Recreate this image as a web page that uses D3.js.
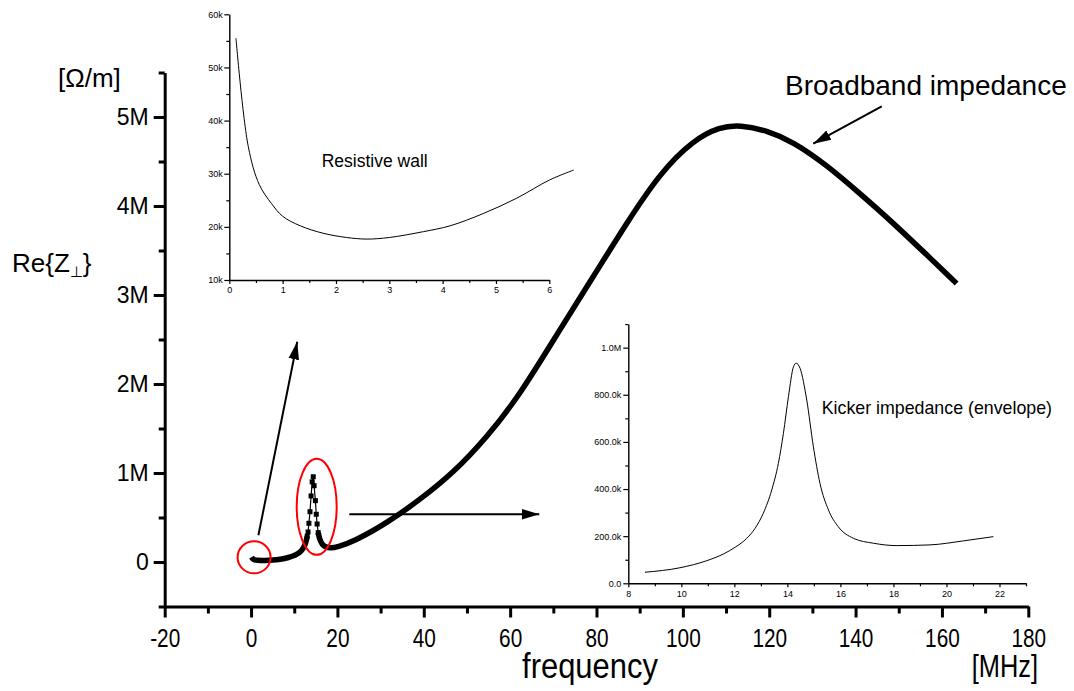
<!DOCTYPE html>
<html>
<head>
<meta charset="utf-8">
<script src="https://cdn.jsdelivr.net/npm/d3@7"></script>
<style>
  body { margin: 0; background: #fff; }
  svg { display: block; }
  text { font-family: "Liberation Sans", Arial, Helvetica, sans-serif; fill: #000; }
</style>
</head>
<body>
<div id="chart"></div>
<script>
// Main curve: Re{Z_perp} [Ohm/m] vs frequency [MHz]
const mainFreq = [0.125, 0.35, 0.8, 1.5, 2.5, 4, 6, 7.5, 8.6, 9.9, 10.9, 11.6, 12.0, 12.5, 12.8, 13.0,
  13.2, 13.4, 13.65, 13.9, 14.15, 14.4, 14.6, 14.9, 15.1, 15.3,
  15.55, 15.9, 16.5, 17.2, 18.3, 20, 23.7, 31.4, 39.1, 46.8, 54.6, 62.3,
  71.5, 79.3, 87, 94.7, 102.4, 108.6, 113.3, 119.4,
  125.6, 133.3, 141, 148.7, 156.5, 163.4];
const mainZ = [55e3, 35e3, 24e3, 19e3, 17e3, 19e3, 25e3, 35e3, 50e3, 68e3, 95e3, 123e3, 150e3, 190e3, 240e3, 290e3,
  337e3, 435e3, 565e3, 742e3, 900e3, 958e3, 857e3, 689e3, 536e3, 427e3,
  330e3, 250e3, 195e3, 170e3, 154e3, 168e3, 228e3, 435e3, 700e3, 1.0e6, 1.4e6, 1.88e6,
  2.61e6, 3.21e6, 3.81e6, 4.37e6, 4.74e6, 4.89e6, 4.91e6, 4.85e6,
  4.72e6, 4.46e6, 4.14e6, 3.81e6, 3.45e6, 3.13e6];

// Resistive wall inset
const rwFreq = [0.125, 0.356, 0.56, 0.79, 1.0, 1.33, 1.76, 2.2, 2.58, 3.0, 3.64, 4.14, 4.76, 5.39, 6.0, 6.46];
const rwZ = [55.5e3, 35.1e3, 28.0e3, 24.4e3, 22.0e3, 20.2e3, 18.8e3, 18.0e3, 17.7e3, 18.0e3, 19.1e3, 20.2e3, 22.5e3, 25.4e3, 28.8e3, 30.7e3];

// Kicker impedance (envelope) inset
const kFreq = [8.63, 9.95, 10.96, 11.58, 12.03, 12.47, 12.78, 13.09, 13.41, 13.66, 13.85, 14.04, 14.23, 14.33, 14.48,
  14.73, 14.98, 15.23, 15.55, 15.92, 16.49, 17.25, 18.13, 19.38, 20.64, 21.77];
const kZ = [47e3, 66e3, 96e3, 124e3, 153e3, 191e3, 233e3, 297e3, 396e3, 509e3, 636e3, 792e3, 919e3, 934e3, 912e3,
  778e3, 580e3, 424e3, 311e3, 240e3, 191e3, 170e3, 160e3, 163e3, 180e3, 198e3];

// Tick values and labels
const mainXTicks = [-20, 0, 20, 40, 60, 80, 100, 120, 140, 160, 180];
const mainXMinor = [-10, 10, 30, 50, 70, 90, 110, 130, 150, 170];
const mainYTicks = [0, 1e6, 2e6, 3e6, 4e6, 5e6];
const mainYLabels = ["0", "1M", "2M", "3M", "4M", "5M"];
const mainYMinor = [-0.5e6, 0.5e6, 1.5e6, 2.5e6, 3.5e6, 4.5e6, 5.5e6];
const rwXTicks = [0, 1, 2, 3, 4, 5, 6];
const rwXMinor = [0.5, 1.5, 2.5, 3.5, 4.5, 5.5];
const rwYTicks = [10e3, 20e3, 30e3, 40e3, 50e3, 60e3];
const rwYLabels = ["10k", "20k", "30k", "40k", "50k", "60k"];
const rwYMinor = [15e3, 25e3, 35e3, 45e3, 55e3];
const kXTicks = [8, 10, 12, 14, 16, 18, 20, 22];
const kXMinor = [9, 11, 13, 15, 17, 19, 21, 23];
const kYTicks = [0, 200e3, 400e3, 600e3, 800e3, 1e6];
const kYLabels = ["0.0", "200.0k", "400.0k", "600.0k", "800.0k", "1.0M"];
const kYMinor = [100e3, 300e3, 500e3, 700e3, 900e3, 1.1e6];

const width = 1074;
const height = 691;

const svg = d3.create("svg")
    .attr("width", width)
    .attr("height", height)
    .attr("viewBox", [0, 0, width, height]);

svg.append("rect").attr("width", width).attr("height", height).attr("fill", "#fff");

// Main scales
const x = d3.scaleLinear().domain([-20, 180]).range([164.7, 1028.3]);
const y = d3.scaleLinear().domain([-0.5e6, 5.5e6]).range([606.5, 72.5]);

// helper: draw major + minor ticks for an axis
function drawAxis(g, axisFn, scale, major, labels, minor, opt) {
    const a = g.append("g").call(axisFn(scale).tickValues(major)
        .tickFormat((d, i) => labels ? labels[i] : d)
        .tickSize(opt.major).tickSizeOuter(0).tickPadding(opt.pad));
    a.select(".domain").attr("stroke-width", opt.lw);
    a.selectAll(".tick line").attr("stroke-width", opt.tw);
    a.selectAll(".tick text").attr("font-size", opt.fs).attr("fill", "#000")
        .attr("font-family", null);
    if (opt.squeeze) a.selectAll(".tick text").attr("transform", `scale(${opt.squeeze},1)`);
    const m = g.append("g").call(axisFn(scale).tickValues(minor).tickFormat("")
        .tickSize(opt.minor).tickSizeOuter(0));
    m.select(".domain").remove();
    m.selectAll(".tick line").attr("stroke-width", opt.tw);
    return a;
}

// Main x axis
const gx = svg.append("g").attr("transform", `translate(0,${y(-0.5e6)})`);
drawAxis(gx, d3.axisBottom, x, mainXTicks, null, mainXMinor,
    {major: 11, minor: 7, pad: 11, lw: 3, tw: 3, fs: 26, squeeze: 0.8});

// Main y axis
const gy = svg.append("g").attr("transform", `translate(${x(-20)},0)`);
drawAxis(gy, d3.axisLeft, y, mainYTicks, mainYLabels, mainYMinor,
    {major: 11, minor: 6, pad: 5, lw: 3, tw: 3, fs: 23});

// Main curve
const mainData = mainFreq.map((f, i) => ({f: f, z: mainZ[i]}));
const inPeak = d => d.f > 13.1 && d.f < 15.45;
const peakData = mainData.filter(d => d.f >= 12.9 && d.f <= 15.6);

svg.append("path")
    .attr("fill", "none").attr("stroke", "#000").attr("stroke-width", 1.2)
    .attr("d", d3.line().x(d => x(d.f)).y(d => y(d.z))(peakData));

svg.append("path")
    .attr("fill", "none").attr("stroke", "#000").attr("stroke-width", 5.5)
    .attr("d", d3.line().defined(d => !inPeak(d)).curve(d3.curveBasis)
        .x(d => x(d.f)).y(d => y(d.z))(mainData));

svg.append("g").selectAll("rect")
    .data(peakData)
    .join("rect")
    .attr("x", d => x(d.f) - 2.5).attr("y", d => y(d.z) - 2.5)
    .attr("width", 5).attr("height", 5).attr("fill", "#000");

// Annotations: red circles around the resistive wall and kicker regions
svg.append("ellipse")
    .attr("cx", x(0.7)).attr("cy", y(0.053e6)).attr("rx", 16.5).attr("ry", 16)
    .attr("fill", "none").attr("stroke", "#f00").attr("stroke-width", 2);
svg.append("ellipse")
    .attr("cx", x(15.2)).attr("cy", y(0.62e6)).attr("rx", 20).attr("ry", 48)
    .attr("fill", "none").attr("stroke", "#f00").attr("stroke-width", 2);

// Arrows
svg.append("defs").append("marker")
    .attr("id", "head").attr("markerUnits", "userSpaceOnUse")
    .attr("markerWidth", 20).attr("markerHeight", 20)
    .attr("viewBox", "-16 -6 18 12").attr("refX", 0).attr("refY", 0)
    .attr("orient", "auto")
    .append("path").attr("d", "M0,0L-16,-4.8L-16,4.8Z").attr("fill", "#000");

const arrows = [
    {f0: 1.7, z0: 0.30e6, f1: 10.7, z1: 2.475e6},
    {f0: 22.75, z0: 0.536e6, f1: 66.75, z1: 0.536e6},
    {f0: 146.05, z0: 5.12e6, f1: 130.2, z1: 4.70e6}
];
svg.append("g").selectAll("line")
    .data(arrows)
    .join("line")
    .attr("x1", d => x(d.f0)).attr("y1", d => y(d.z0))
    .attr("x2", d => x(d.f1)).attr("y2", d => y(d.z1))
    .attr("stroke", "#000").attr("stroke-width", 2)
    .attr("marker-end", "url(#head)");

svg.append("text").attr("x", 785).attr("y", 94.5).attr("font-size", 28).text("Broadband impedance");

// Main axis titles
svg.append("text").attr("x", 58).attr("y", 87).attr("font-size", 26).text("[\u03A9/m]");
const ylab = svg.append("text").attr("x", 12).attr("y", 272).attr("font-size", 26);
ylab.append("tspan").text("Re{Z");
ylab.append("tspan").attr("font-size", 15).attr("dy", 5).text("\u22A5");
ylab.append("tspan").attr("dy", -5).text("}");

svg.append("text").attr("transform", "translate(590,678) scale(0.86,1)")
    .attr("text-anchor", "middle").attr("font-size", 36).text("frequency");
svg.append("text").attr("transform", "translate(1038,677) scale(0.82,1)")
    .attr("text-anchor", "end").attr("font-size", 31).text("[MHz]");

// Inset: resistive wall
const x1 = d3.scaleLinear().domain([0, 6]).range([229.3, 549.3]);
const y1 = d3.scaleLinear().domain([10e3, 60e3]).range([280, 14.3]);
const g1x = svg.append("g").attr("transform", `translate(0,${y1(10e3)})`);
drawAxis(g1x, d3.axisBottom, x1, rwXTicks, null, rwXMinor,
    {major: 4, minor: 3, pad: 3, lw: 1.4, tw: 1.2, fs: 9});
const g1y = svg.append("g").attr("transform", `translate(${x1(0)},0)`);
drawAxis(g1y, d3.axisLeft, y1, rwYTicks, rwYLabels, rwYMinor,
    {major: 5, minor: 3, pad: 1.5, lw: 1.4, tw: 1.2, fs: 9});

svg.append("path")
    .attr("fill", "none").attr("stroke", "#000").attr("stroke-width", 1)
    .attr("d", d3.line().curve(d3.curveCatmullRom.alpha(0.5)).x((d, i) => x1(rwFreq[i])).y(d => y1(d))(rwZ));
svg.append("text").attr("x", 321.7).attr("y", 167.3).attr("font-size", 17.5).text("Resistive wall");

// Inset: kicker impedance
const x2 = d3.scaleLinear().domain([8, 23]).range([628.3, 1026]);
const y2 = d3.scaleLinear().domain([0, 1.1e6]).range([583.3, 324.1]);
const g2x = svg.append("g").attr("transform", `translate(0,${y2(0)})`);
drawAxis(g2x, d3.axisBottom, x2, kXTicks, null, kXMinor,
    {major: 4, minor: 3, pad: 3, lw: 1.4, tw: 1.2, fs: 9});
const g2y = svg.append("g").attr("transform", `translate(${x2(8)},0)`);
drawAxis(g2y, d3.axisLeft, y2, kYTicks, kYLabels, kYMinor,
    {major: 5, minor: 3, pad: 2, lw: 1.4, tw: 1.2, fs: 9});

svg.append("path")
    .attr("fill", "none").attr("stroke", "#000").attr("stroke-width", 1)
    .attr("d", d3.line().curve(d3.curveMonotoneX).x((d, i) => x2(kFreq[i])).y(d => y2(d))(kZ));
svg.append("text").attr("x", 821.7).attr("y", 414.3).attr("font-size", 17.8).text("Kicker impedance (envelope)");

document.getElementById("chart").appendChild(svg.node());
</script>
</body>
</html>
